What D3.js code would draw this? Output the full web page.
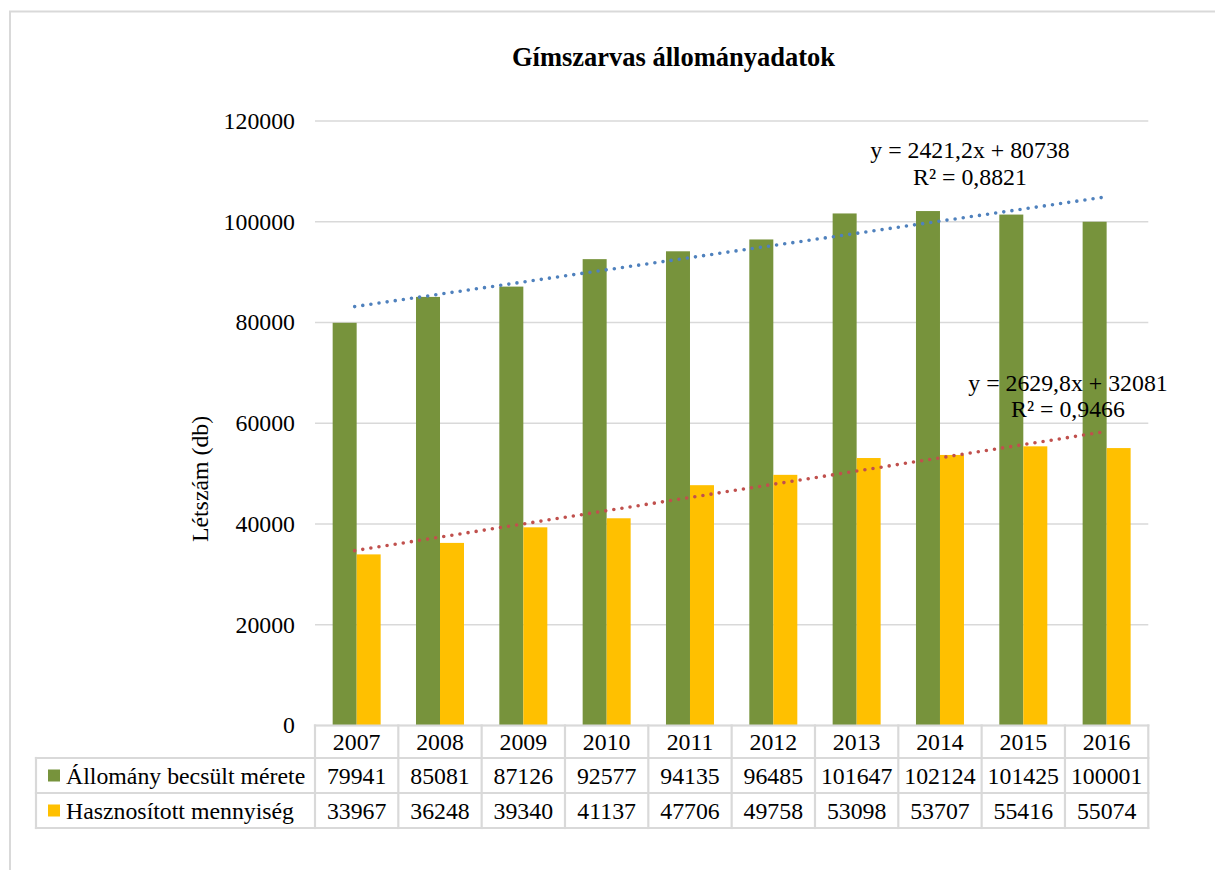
<!DOCTYPE html>
<html>
<head>
<meta charset="utf-8">
<script src="https://cdn.jsdelivr.net/npm/d3@7"></script>
<style>
  body { margin: 0; background: #fff; }
  text { font-family: "Liberation Serif", "Times New Roman", serif; fill: #000; }
</style>
</head>
<body>
<svg id="chart" width="1215" height="870"></svg>
<script>
const years = ["2007", "2008", "2009", "2010", "2011", "2012", "2013", "2014", "2015", "2016"];
const series_names = ["Állomány becsült mérete", "Hasznosított mennyiség"];
const allomany_values = [79941, 85081, 87126, 92577, 94135, 96485, 101647, 102124, 101425, 100001];
const hasznositott_values = [33967, 36248, 39340, 41137, 47706, 49758, 53098, 53707, 55416, 55074];
const y_ticks = [0, 20000, 40000, 60000, 80000, 100000, 120000];

const chart_title = "Gímszarvas állományadatok";
const y_title = "Létszám (db)";

const bar_colors = ["#77933c", "#ffc000"];
const trend_colors = ["#4f81bd", "#c0504d"];
const grid_color = "#d9d9d9";
const font_size = 23.8;

const plot_left = 315;
const plot_right = 1148.3;
const plot_top = 121;
const plot_bottom = 725.5;
const row_bottoms = [758, 793, 828];
const legend_left = 36;

const svg = d3.select("#chart");

// chart border
svg
  .append("rect")
  .attr("x", 10)
  .attr("y", 11.5)
  .attr("width", 1300)
  .attr("height", 1000)
  .attr("fill", "#fff")
  .attr("stroke", grid_color)
  .attr("stroke-width", 2);

svg
  .append("text")
  .attr("x", 673.5)
  .attr("y", 66)
  .attr("text-anchor", "middle")
  .attr("font-weight", "bold")
  .attr("font-size", 26.5)
  .text(chart_title);

const y = d3.scaleLinear().domain([0, 120000]).range([plot_bottom, plot_top]);
const x = d3.scaleBand().domain(years).range([plot_left, plot_right]);
const group_width = x.bandwidth() * 0.576;
const x_inner = d3.scaleBand().domain([0, 1]).range([0, group_width]);

// gridlines
svg
  .append("g")
  .selectAll("line")
  .data(y_ticks)
  .join("line")
  .attr("x1", plot_left)
  .attr("x2", plot_right)
  .attr("y1", (d) => y(d))
  .attr("y2", (d) => y(d))
  .attr("stroke", grid_color)
  .attr("stroke-width", 1.5);

svg
  .append("g")
  .selectAll("text")
  .data(y_ticks)
  .join("text")
  .attr("x", 295)
  .attr("y", (d) => y(d))
  .attr("dy", "0.33em")
  .attr("text-anchor", "end")
  .attr("font-size", font_size)
  .text((d) => d);

svg
  .append("text")
  .attr("transform", "translate(208,479) rotate(-90)")
  .attr("text-anchor", "middle")
  .attr("font-size", font_size)
  .text(y_title);

// bars
const all_series = [allomany_values, hasznositott_values];
all_series.forEach((values, si) => {
  svg
    .append("g")
    .selectAll("rect")
    .data(values)
    .join("rect")
    .attr("x", (d, i) => x(years[i]) + (x.bandwidth() - group_width) / 2 + x_inner(si))
    .attr("width", x_inner.bandwidth())
    .attr("y", (d) => y(d))
    .attr("height", (d) => y(0) - y(d))
    .attr("fill", bar_colors[si]);
});

// linear trendlines (least squares, x = 1..n like Excel)
function fit(values) {
  const n = values.length;
  const xs = values.map((v, i) => i + 1);
  const mx = d3.mean(xs);
  const my = d3.mean(values);
  let sxy = 0, sxx = 0, syy = 0;
  values.forEach((v, i) => {
    sxy += (xs[i] - mx) * (v - my);
    sxx += (xs[i] - mx) ** 2;
    syy += (v - my) ** 2;
  });
  const slope = sxy / sxx;
  const intercept = my - slope * mx;
  return { slope, intercept, r2: (sxy * sxy) / (sxx * syy), n };
}

const label_pos = [
  { cx: 970, y1: 158, y2: 185 },
  { cx: 1068, y1: 391, y2: 417 },
];

all_series.forEach((values, si) => {
  const f = fit(values);
  const cx = (i) => x(years[i]) + x.bandwidth() / 2;
  svg
    .append("line")
    .attr("x1", cx(0) - 2)
    .attr("x2", cx(f.n - 1))
    .attr("y1", y(f.intercept + f.slope * 1))
    .attr("y2", y(f.intercept + f.slope * f.n))
    .attr("stroke", trend_colors[si])
    .attr("stroke-width", 3.6)
    .attr("stroke-linecap", "round")
    .attr("stroke-dasharray", "0 8.2");

  const eq = `y = ${f.slope.toFixed(1).replace(".", ",")}x + ${Math.round(f.intercept)}`;
  const r2 = `R² = ${f.r2.toFixed(4).replace(".", ",")}`;
  const p = label_pos[si];
  svg
    .append("text")
    .attr("x", p.cx)
    .attr("y", p.y1)
    .attr("text-anchor", "middle")
    .attr("font-size", font_size)
    .text(eq);
  svg
    .append("text")
    .attr("x", p.cx)
    .attr("y", p.y2)
    .attr("text-anchor", "middle")
    .attr("font-size", font_size)
    .text(r2);
});

// data table
const table = svg.append("g");
const table_lines = [
  [plot_left, plot_bottom, plot_right, plot_bottom],
  [legend_left, row_bottoms[0], plot_right, row_bottoms[0]],
  [legend_left, row_bottoms[1], plot_right, row_bottoms[1]],
  [legend_left, row_bottoms[2], plot_right, row_bottoms[2]],
  [legend_left, row_bottoms[0], legend_left, row_bottoms[2]],
];
years.forEach((yr) => table_lines.push([x(yr), plot_bottom, x(yr), row_bottoms[2]]));
table_lines.push([plot_right, plot_bottom, plot_right, row_bottoms[2]]);

table
  .selectAll("line")
  .data(table_lines)
  .join("line")
  .attr("x1", (d) => d[0])
  .attr("y1", (d) => d[1])
  .attr("x2", (d) => d[2])
  .attr("y2", (d) => d[3])
  .attr("stroke", grid_color)
  .attr("stroke-width", 2.2)
  .attr("stroke-linecap", "square");

const row_mid = [
  (plot_bottom + row_bottoms[0]) / 2,
  (row_bottoms[0] + row_bottoms[1]) / 2,
  (row_bottoms[1] + row_bottoms[2]) / 2,
];

table
  .append("g")
  .selectAll("text")
  .data(years)
  .join("text")
  .attr("x", (d) => x(d) + x.bandwidth() / 2)
  .attr("y", row_mid[0])
  .attr("dy", "0.35em")
  .attr("text-anchor", "middle")
  .attr("font-size", font_size)
  .text((d) => d);

all_series.forEach((values, si) => {
  const row = table.append("g");
  row
    .selectAll("text")
    .data(values)
    .join("text")
    .attr("x", (d, i) => x(years[i]) + x.bandwidth() / 2)
    .attr("y", row_mid[si + 1])
    .attr("dy", "0.35em")
    .attr("text-anchor", "middle")
    .attr("font-size", font_size)
    .text((d) => d);

  row
    .append("rect")
    .attr("x", 48)
    .attr("y", row_mid[si + 1] - 6)
    .attr("width", 12)
    .attr("height", 12)
    .attr("fill", bar_colors[si]);

  row
    .append("text")
    .attr("x", 66)
    .attr("y", row_mid[si + 1])
    .attr("dy", "0.35em")
    .attr("font-size", font_size)
    .text(series_names[si]);
});
</script>
</body>
</html>
